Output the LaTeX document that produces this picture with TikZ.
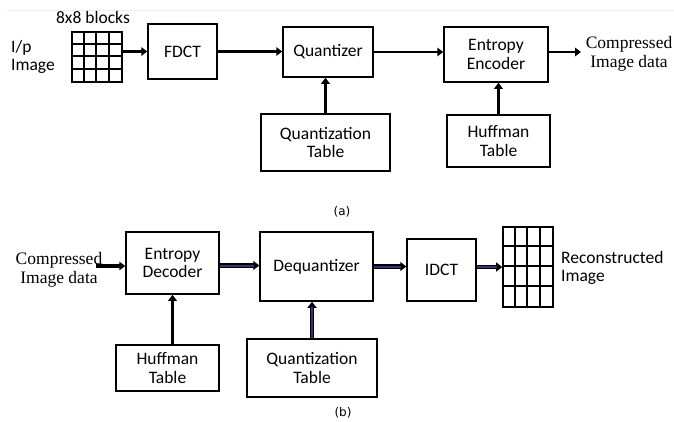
\documentclass[tikz,border=0pt]{standalone}
\usepackage{fontspec}
\setmainfont{Carlito}
\newfontfamily\timesf{Liberation Serif}
\newfontfamily\capf{DejaVu Sans}
\usetikzlibrary{arrows.meta,calc}
\tikzset{
  blk/.style={draw=black, line width=1.5pt, inner sep=0pt, align=center,
    font=\fontsize{17.5}{18.5}\selectfont},
  arr/.style={line width=2.8pt, -{Triangle[length=6pt,width=8.5pt]}},
  dbl/.style={line width=4.4pt, draw=black, -{Triangle[length=6pt,width=9pt]},
    postaction={draw=blue!35!black!80, line width=2pt, -, shorten >=5.5pt}},
  gridbox/.style={draw=black, line width=1.6pt, inner sep=0pt},
  gline/.style={line width=1.6pt},
  lbl/.style={inner sep=0pt, font=\fontsize{17.5}{18.5}\selectfont},
  tlbl/.style={inner sep=0pt, align=center, font=\timesf\fontsize{17.5}{18.5}\selectfont},
  captxt/.style={inner sep=0pt, font=\capf\fontsize{12}{13}\selectfont}
}
\begin{document}
\begin{tikzpicture}[x=1pt,y=-1pt]
\useasboundingbox (0,0) rectangle (674,421);
% faint top rule
\draw[gray!12, line width=0.8pt] (7,10) -- (674,10);

% ---------- (a) ----------
\node[lbl] (blk8) at (93,17) {8x8 blocks};
\node[lbl, anchor=west, align=left] (ip) at (11,57) {I/p\\Image};
\node[gridbox, minimum width=50pt, minimum height=50pt] (G1) at (97,57) {};
\foreach \i in {1,2,3} {
  \draw[gline] ($(G1.north west)+(\i*12.5,0)$) -- ($(G1.south west)+(\i*12.5,0)$);
  \draw[gline] ($(G1.north west)+(0,\i*12.5)$) -- ($(G1.north east)+(0,\i*12.5)$);
}
\node[blk, minimum width=69pt, minimum height=55pt] (FD) at (182.5,51.5) {FDCT};
\node[blk, minimum width=90pt, minimum height=50pt] (QZ) at (328,52) {Quantizer};
\node[blk, minimum width=104pt, minimum height=55pt] (EE) at (496,54.5) {Entropy\\Encoder};
\node[blk, minimum width=129pt, minimum height=57pt] (QT1) at (325.5,142.5) {Quantization\\Table};
\node[blk, minimum width=103pt, minimum height=52pt] (HT1) at (498.5,141) {Huffman\\Table};
\node[tlbl] (CI1) at (629,54) {Compressed\\Image data};
\coordinate (CI1in) at (581,52);

\draw[arr] (G1.east |- FD.center) -- (FD.west);
\draw[arr] (FD.east) -- (FD.east -| QZ.west);
\draw[arr] (QZ.east) -- (QZ.east -| EE.west);
\draw[arr] (EE.east |- CI1in) -- (CI1in);
\draw[arr] (QT1.north) -- (QT1.north |- QZ.south);
\draw[arr] (HT1.north) -- (HT1.north |- EE.south);

\node[captxt] (capa) at (342,212) {(a)};

% ---------- (b) ----------
\node[tlbl] (CI2) at (59,270) {Compressed\\Image data};
\coordinate (CI2out) at (96,266);
\node[blk, minimum width=93pt, minimum height=62pt] (ED) at (172.5,263) {Entropy\\Decoder};
\node[blk, minimum width=113pt, minimum height=69pt] (DQ) at (316.5,266.5) {Dequantizer};
\node[blk, minimum width=69pt, minimum height=62pt] (ID) at (441.5,270) {IDCT};
\node[gridbox, minimum width=50pt, minimum height=80pt] (G2) at (528,267) {};
\foreach \i in {1,2,3} {
  \draw[gline] ($(G2.north west)+(\i*12.5,0)$) -- ($(G2.south west)+(\i*12.5,0)$);
  \draw[gline] ($(G2.north west)+(0,\i*20)$) -- ($(G2.north east)+(0,\i*20)$);
}
\node[lbl, anchor=west, align=left] (RI) at (561,268) {Reconstructed\\Image};
\node[blk, minimum width=103pt, minimum height=46pt] (HT2) at (167.5,368) {Huffman\\Table};
\node[blk, minimum width=130pt, minimum height=58pt] (QT2) at (312,368) {Quantization\\Table};

\draw[arr, line width=3.2pt] (CI2out) -- (CI2out -| ED.west);
\draw[dbl] ([yshift=-2.5pt]ED.east) -- ([yshift=-2.5pt]ED.east -| DQ.west);
\draw[dbl] (DQ.east) -- (DQ.east -| ID.west);
\draw[dbl] (ID.east |- G2.center) -- (G2.west);
\draw[arr] (HT2.north -| ED.south) -- (ED.south);
\draw[dbl] (QT2.north) -- (QT2.north |- DQ.south);

\node[captxt] (capb) at (343,413) {(b)};
\end{tikzpicture}
\end{document}
